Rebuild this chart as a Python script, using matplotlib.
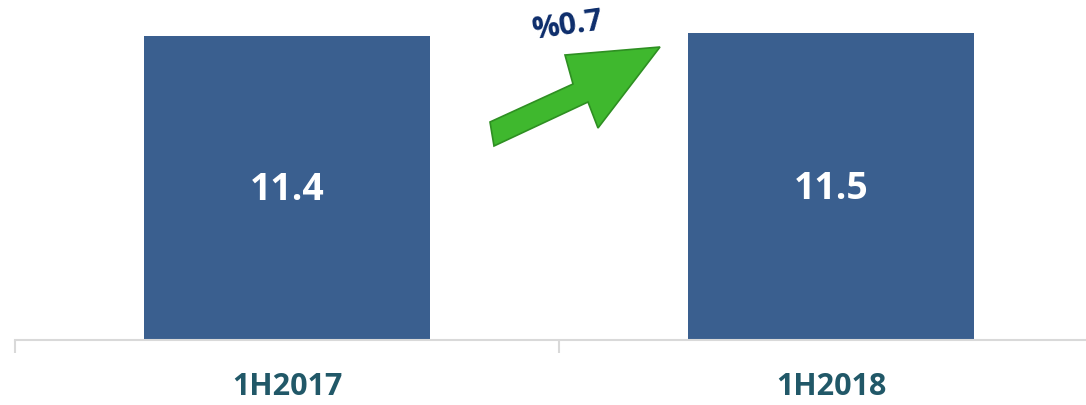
import matplotlib
matplotlib.use("Agg")
import matplotlib.pyplot as plt
from matplotlib.patches import Polygon

categories = ["1H2017", "1H2018"]
values = [11.4, 11.5]
value_labels = ["11.4", "11.5"]
change_label = "%0.7"

FONT = ["Open Sans", "DejaVu Sans"]
W, H = 1086, 405
fig = plt.figure(figsize=(W / 100, H / 100), dpi=100)
ax = fig.add_axes([15 / W, (H - 340) / H, (1103 - 15) / W, 340 / H])
ax.bar(range(len(values)), values, width=0.525, color="#3A5F8F", zorder=2)
ax.set_xlim(-0.5, 1.5)
ax.set_ylim(0, 340 / 26.7)
for i, (v, lab) in enumerate(zip(values, value_labels)):
    ax.text(i, v / 2 - 0.1, lab, ha="center", va="center", color="white",
            fontsize=27, fontweight="bold", family=FONT)
for s in ["top", "right", "left"]:
    ax.spines[s].set_visible(False)
ax.spines["bottom"].set_color("#D9D9D9")
ax.spines["bottom"].set_linewidth(1.5)
ax.set_yticks([])
ax.set_xticks([-0.5, 0.5, 1.5])
ax.set_xticklabels([])
ax.tick_params(axis="x", length=9, width=1.5, color="#D9D9D9")
for i, c in enumerate(categories):
    ax.text(i, -47 / 26.7, c, ha="center", va="center", color="#215868",
            fontsize=22, fontweight="bold", family=FONT)

def px(x, y):
    return (x / W, (H - y) / H)

arrow_pts = [(490, 122), (573, 84), (565, 55), (660, 47), (598, 128), (588, 102), (494, 146)]
arrow = Polygon([px(x, y) for x, y in arrow_pts], closed=True, transform=fig.transFigure,
                facecolor="#3FB82E", edgecolor="#2E8F22", linewidth=1.2, zorder=5)
fig.patches.append(arrow)
fig.text(*px(567, 26), change_label, ha="center", va="center", color="#0D2D6B",
         fontsize=22, fontweight="bold", rotation=8, family=FONT)

fig.savefig("out.png", dpi=100)
